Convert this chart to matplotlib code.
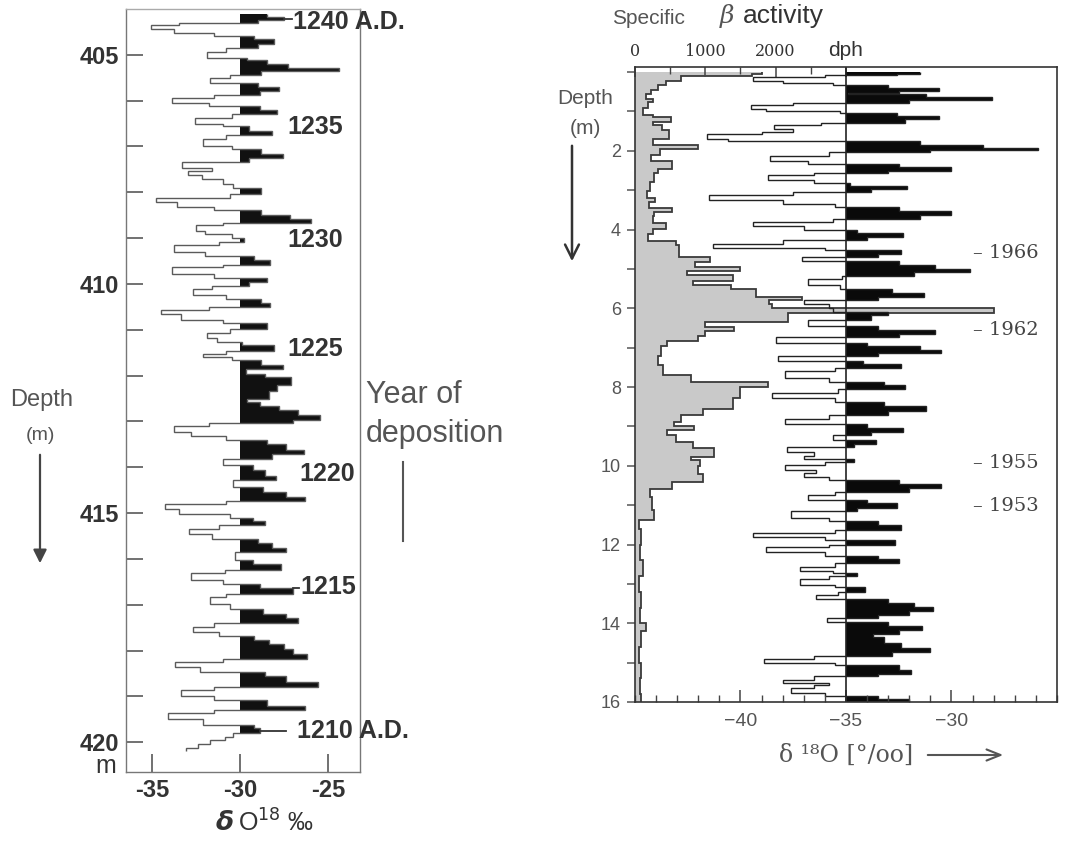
import matplotlib
matplotlib.use("Agg")
import matplotlib.pyplot as plt
from matplotlib.ticker import MultipleLocator, FixedLocator
import numpy as np

# ---------------- data ----------------
# Core A (404-420 m): delta O18 per layer, layer tops in metres
core_a_top = [
    404.12, 404.18, 404.24, 404.30, 404.36, 404.44, 404.52, 404.60, 404.66, 404.76,
    404.86, 404.94, 405.06, 405.12, 405.20, 405.28, 405.36, 405.44, 405.50, 405.62,
    405.70, 405.80, 405.88, 405.94, 406.06, 406.12, 406.20, 406.30, 406.38, 406.50,
    406.56, 406.66, 406.76, 406.84, 406.98, 407.06, 407.16, 407.26, 407.34, 407.46,
    407.54, 407.62, 407.72, 407.82, 407.90, 408.04, 408.12, 408.22, 408.32, 408.38,
    408.50, 408.58, 408.66, 408.72, 408.84, 408.92, 409.00, 409.08, 409.16, 409.30,
    409.40, 409.48, 409.58, 409.64, 409.78, 409.86, 409.96, 410.04, 410.12, 410.24,
    410.32, 410.42, 410.50, 410.56, 410.66, 410.78, 410.86, 410.98, 411.06, 411.18,
    411.26, 411.34, 411.46, 411.52, 411.60, 411.66, 411.76, 411.86, 411.96, 412.04,
    412.20, 412.34, 412.50, 412.58, 412.66, 412.76, 412.86, 412.96, 413.04, 413.10,
    413.22, 413.32, 413.40, 413.50, 413.62, 413.72, 413.82, 413.96, 414.06, 414.18,
    414.28, 414.42, 414.54, 414.64, 414.74, 414.80, 414.92, 415.02, 415.10, 415.18,
    415.26, 415.34, 415.46, 415.56, 415.66, 415.76, 415.86, 416.02, 416.12, 416.24,
    416.30, 416.46, 416.54, 416.64, 416.76, 416.84, 416.98, 417.10, 417.20, 417.30,
    417.40, 417.48, 417.60, 417.68, 417.78, 417.86, 417.96, 418.08, 418.18, 418.24,
    418.36, 418.46, 418.56, 418.68, 418.80, 418.86, 419.00, 419.08, 419.20, 419.30,
    419.36, 419.50, 419.62, 419.70, 419.80, 419.88, 419.96, 420.04, 420.12,
]
core_a_bottom = 420.20
core_a_d18o = [
    -28.5, -27.5, -29.0, -33.5, -35.1, -33.8, -31.5, -29.2, -28.1, -29.0,
    -30.8, -31.9, -29.6, -28.5, -27.3, -24.4, -28.8, -30.6, -31.7, -29.0,
    -27.8, -28.9, -31.5, -33.9, -31.8, -28.9, -27.9, -30.5, -32.6, -31.0,
    -29.5, -28.2, -30.8, -32.1, -30.5, -28.8, -27.6, -29.5, -33.3, -31.6,
    -33.0, -32.2, -31.0, -30.4, -28.8, -30.6, -34.8, -33.6, -31.5, -28.8,
    -27.2, -26.0, -31.0, -32.5, -32.0, -30.5, -29.8, -31.2, -33.8, -32.0,
    -29.2, -28.3, -31.0, -33.9, -31.5, -28.5, -29.5, -31.6, -32.7, -30.8,
    -28.8, -28.3, -31.8, -34.5, -33.4, -31.0, -28.5, -30.6, -31.9, -31.3,
    -29.9, -28.1, -30.8, -32.1, -30.5, -28.8, -27.6, -29.7, -28.6, -27.1,
    -27.9, -28.4, -29.6, -28.9, -27.8, -26.7, -25.5, -27.0, -31.8, -33.8,
    -32.8, -30.8, -28.5, -27.4, -26.4, -28.2, -31.0, -29.3, -28.6, -28.0,
    -30.4, -28.7, -27.4, -26.3, -30.8, -34.3, -33.5, -30.6, -29.3, -28.6,
    -31.2, -32.9, -31.6, -29.0, -28.2, -27.4, -30.3, -29.3, -27.7, -30.9,
    -32.8, -31.0, -28.9, -27.0, -30.8, -31.7, -30.6, -28.7, -27.4, -26.7,
    -31.5, -32.7, -31.2, -29.2, -28.4, -27.5, -27.0, -26.2, -31.0, -33.7,
    -32.3, -28.6, -27.4, -25.6, -31.5, -33.4, -31.5, -28.5, -26.3, -31.5,
    -34.1, -32.1, -29.2, -28.9, -30.4, -30.9, -31.7, -32.4, -33.1,
]
core_a_baseline = -30.0
core_a_years = ["1240 A.D.", "1235", "1230", "1225", "1220", "1215", "1210 A.D."]
core_a_year_depth = [404.28, 406.57, 409.04, 411.42, 414.15, 416.62, 419.76]
core_a_year_x = [-27.0, -27.3, -27.3, -27.3, -26.65, -26.6, -26.8]

# Core B (0-16 m): delta 18O per layer
core_b_top = [
    0.00, 0.04, 0.08, 0.12, 0.22, 0.28, 0.33, 0.40, 0.47, 0.52,
    0.55, 0.64, 0.72, 0.78, 0.84, 0.93, 0.98, 1.04, 1.12, 1.20,
    1.28, 1.34, 1.44, 1.52, 1.58, 1.70, 1.76, 1.84, 1.92, 1.98,
    2.04, 2.12, 2.26, 2.34, 2.42, 2.50, 2.56, 2.62, 2.74, 2.82,
    2.90, 2.98, 3.05, 3.12, 3.26, 3.34, 3.42, 3.52, 3.62, 3.72,
    3.80, 3.92, 4.00, 4.08, 4.20, 4.27, 4.36, 4.46, 4.52, 4.62,
    4.70, 4.80, 4.90, 5.00, 5.08, 5.18, 5.26, 5.40, 5.50, 5.60,
    5.70, 5.78, 5.90, 6.00, 6.10, 6.18, 6.30, 6.45, 6.55, 6.65,
    6.72, 6.88, 6.96, 7.06, 7.14, 7.20, 7.34, 7.42, 7.52, 7.60,
    7.76, 7.86, 7.96, 8.06, 8.14, 8.28, 8.38, 8.48, 8.60, 8.72,
    8.80, 8.94, 9.04, 9.14, 9.22, 9.34, 9.44, 9.52, 9.64, 9.74,
    9.82, 9.90, 9.98, 10.10, 10.18, 10.28, 10.36, 10.46, 10.56, 10.66,
    10.74, 10.86, 10.94, 11.06, 11.14, 11.32, 11.40, 11.50, 11.62, 11.70,
    11.82, 11.88, 12.00, 12.06, 12.20, 12.28, 12.38, 12.48, 12.56, 12.66,
    12.72, 12.80, 12.88, 13.02, 13.08, 13.20, 13.28, 13.38, 13.48, 13.58,
    13.68, 13.78, 13.86, 13.96, 14.06, 14.16, 14.26, 14.36, 14.50, 14.62,
    14.74, 14.84, 14.90, 15.00, 15.06, 15.18, 15.28, 15.34, 15.44, 15.52,
    15.58, 15.64, 15.76, 15.84, 15.92,
]
core_b_bottom = 16.0
core_b_d18o = [
    -31.5, -32.6, -36.0, -39.4, -38.0, -35.6, -33.0, -30.6, -32.5, -34.9,
    -31.2, -28.1, -32.0, -37.5, -39.5, -38.8, -35.3, -32.6, -30.6, -32.2,
    -36.2, -38.4, -37.5, -39.0, -41.6, -40.6, -31.5, -28.5, -25.9, -31.0,
    -35.8, -38.6, -36.8, -32.5, -30.0, -33.0, -36.5, -38.7, -36.5, -34.8,
    -32.1, -33.8, -37.5, -41.5, -38.0, -35.5, -32.5, -30.0, -31.5, -35.6,
    -39.4, -37.0, -34.5, -32.3, -34.0, -38.0, -41.3, -36.0, -32.4, -33.5,
    -37.1, -32.5, -30.8, -29.1, -31.8, -35.2, -36.8, -35.3, -32.8, -31.3,
    -33.5, -37.0, -35.8, -35.6, -33.0, -33.8, -36.8, -33.5, -30.8, -32.5,
    -38.3, -34.0, -31.5, -30.5, -33.5, -38.2, -34.2, -32.4, -35.5, -37.9,
    -35.8, -33.2, -32.2, -35.4, -38.5, -35.5, -33.2, -31.2, -33.0, -35.8,
    -37.9, -34.0, -32.3, -33.8, -35.6, -33.6, -34.6, -37.8, -36.5, -37.0,
    -34.6, -36.0, -37.9, -36.4, -37.0, -35.8, -32.5, -30.5, -32.0, -35.5,
    -36.8, -34.0, -32.6, -34.5, -37.6, -35.8, -33.5, -32.4, -35.5, -39.4,
    -36.0, -32.7, -35.8, -38.8, -36.0, -33.5, -32.5, -35.5, -37.2, -35.6,
    -34.5, -35.8, -37.2, -35.5, -34.1, -35.4, -36.4, -33.0, -31.8, -30.9,
    -32.0, -33.5, -35.9, -33.0, -31.4, -32.5, -33.7, -33.2, -32.4, -31.0,
    -32.8, -36.5, -38.9, -35.5, -32.5, -31.9, -33.5, -36.5, -38.0, -35.8,
    -36.5, -37.6, -36.0, -33.5, -32.0,
]
core_b_baseline = -35.0

# Core B: specific beta activity (dph) per layer
beta_top = [
    0.00, 0.06, 0.11, 0.22, 0.32, 0.45, 0.55, 0.68, 0.76, 0.90,
    1.08, 1.14, 1.26, 1.34, 1.48, 1.70, 1.84, 1.96, 2.10, 2.26,
    2.46, 2.56, 2.80, 3.02, 3.20, 3.30, 3.46, 3.56, 3.66, 3.82,
    3.98, 4.10, 4.28, 4.40, 4.69, 4.82, 4.95, 5.05, 5.15, 5.30,
    5.40, 5.50, 5.70, 5.80, 5.90, 6.00, 6.12, 6.35, 6.48, 6.58,
    6.70, 6.82, 6.95, 7.20, 7.45, 7.70, 7.87, 8.00, 8.29, 8.55,
    8.70, 8.88, 9.00, 9.10, 9.22, 9.40, 9.56, 9.77, 9.86, 10.00,
    10.20, 10.40, 10.58, 10.80, 11.13, 11.38, 11.60, 12.00, 12.40, 12.80,
    13.20, 13.60, 14.00, 14.20, 14.60, 15.00, 15.40, 15.80,
]
beta_bottom = 16.0
beta_dph = [
    1810, 1670, 660, 440, 320, 230, 160, 250, 180, 120,
    260, 510, 250, 390, 480, 260, 900, 360, 230, 530,
    330, 270, 220, 170, 290, 200, 530, 270, 250, 440,
    250, 180, 580, 630, 1060, 850, 1500, 740, 1390, 820,
    1370, 1720, 2370, 1910, 1950, 5100, 2170, 990, 1410, 990,
    900, 460, 370, 330, 400, 800, 1890, 1490, 1390, 960,
    650, 560, 840, 460, 580, 820, 1130, 790, 920, 900,
    960, 530, 220, 240, 270, 60, 90, 70, 110, 60,
    90, 70, 160, 80, 60, 90, 70, 80,
]

core_b_years = ["1966", "1962", "1955", "1953"]
core_b_year_depth = [4.6, 6.56, 9.94, 11.03]

beta_ticks = [0, 1000, 2000, 3000]
beta_ticklabels = ["0", "1000", "2000", "dph"]

# ---------------- figure ----------------
W, H = 1065, 858
fig = plt.figure(figsize=(W / 100, H / 100), dpi=100)


def fx(px):
    return px / W


def fy(py):
    return 1 - py / H


SANS = "Liberation Sans"
SERIF = "DejaVu Serif"
DARK = "#333333"
GREY = "#555555"

# ---------- left panel ----------
ax1 = fig.add_axes([fx(126), fy(772), (360 - 126) / W, (772 - 9) / H])
a_edges = np.array(core_a_top + [core_a_bottom])
a_vals = np.array(core_a_d18o)
ax1.stairs(np.maximum(a_vals, core_a_baseline), a_edges, orientation="horizontal",
           baseline=core_a_baseline, fill=True, color="#111111", lw=0)
ax1.stairs(a_vals, a_edges, orientation="horizontal", baseline=None,
           color="#5a5a5a", lw=1.0)

ax1.set_xlim(-36.5, -23.2)
ax1.set_ylim(420.65, 404.0)
ax1.set_xticks([-35, -30, -25])
ax1.set_xticklabels(["-35", "-30", "-25"])
ax1.set_yticks([405, 410, 415, 420])
ax1.yaxis.set_minor_locator(FixedLocator(np.arange(405, 421, 1)))
ax1.tick_params(axis="y", which="both", direction="in", length=12, width=1.3,
                color="#666666", pad=5, labelsize=17, labelcolor=DARK)
ax1.tick_params(axis="x", which="both", direction="in", length=13, width=1.3,
                color="#666666", pad=5, labelsize=17, labelcolor=DARK)
for lab in ax1.get_xticklabels() + ax1.get_yticklabels():
    lab.set_fontweight("bold")
    lab.set_fontfamily(SANS)
for sp in ax1.spines.values():
    sp.set_color("#777777")
    sp.set_linewidth(1.0)
ax1.spines["top"].set_color("#aaaaaa")

for txt, d, x in zip(core_a_years, core_a_year_depth, core_a_year_x):
    ax1.text(x, d, txt, ha="left", va="center", fontsize=18, fontweight="bold",
             family=SANS, color=DARK, clip_on=False)
# leader dashes toward the year labels
ax1.plot([-27.5, -27.05], [404.22, 404.22], color=DARK, lw=1.3, clip_on=False)
ax1.plot([-27.0, -26.65], [416.64, 416.64], color=DARK, lw=1.3)
ax1.plot([-28.9, -27.4], [419.76, 419.76], color=DARK, lw=1.3)

fig.text(fx(106), fy(766), "m", ha="center", va="center", fontsize=18,
         family=SANS, color=DARK)
fig.text(fx(234), fy(823), "δ", ha="right", va="center", fontsize=19,
         fontweight="bold", fontstyle="italic", family="DejaVu Sans", color=DARK)
fig.text(fx(238), fy(823), "O$^{18}$ ‰", ha="left", va="center", fontsize=18,
         family=SANS, color=DARK)

fig.text(fx(42), fy(400), "Depth", ha="center", va="center", fontsize=17,
         family=SANS, color=GREY)
fig.text(fx(40), fy(436), "(m)", ha="center", va="center", fontsize=14,
         family=SANS, color=GREY)
fig.add_artist(matplotlib.patches.FancyArrowPatch(
    (fx(40), fy(452)), (fx(40), fy(566)), transform=fig.transFigure,
    arrowstyle="-|>,head_length=8,head_width=4", color="#444444", lw=1.6))

fig.text(fx(366), fy(395), "Year of", ha="left", va="center", fontsize=22,
         family=SANS, color=GREY)
fig.text(fx(366), fy(434), "deposition", ha="left", va="center", fontsize=22,
         family=SANS, color=GREY)
fig.add_artist(matplotlib.lines.Line2D([fx(403), fx(403)], [fy(462), fy(541)],
                                       transform=fig.transFigure, color="#555555", lw=1.5))

# ---------- right panel ----------
ax2 = fig.add_axes([fx(635), fy(702), (1057 - 635) / W, (702 - 67) / H])
axb = ax2.twiny()
ax2.set_zorder(axb.get_zorder() + 1)
ax2.patch.set_visible(False)

b_edges = np.array(beta_top + [beta_bottom])
axb.stairs(beta_dph, b_edges, orientation="horizontal", baseline=0, fill=True,
           color="#c9c9c9", lw=0)
axb.stairs(beta_dph, b_edges, orientation="horizontal", baseline=None,
           color="#3a3a3a", lw=1.3)
axb.set_xlim(0, 6000)

c_edges = np.array(core_b_top + [core_b_bottom])
c_vals = np.array(core_b_d18o)
ax2.stairs(np.maximum(c_vals, core_b_baseline), c_edges, orientation="horizontal",
           baseline=core_b_baseline, fill=True, color="#0a0a0a", lw=0)
ax2.stairs(c_vals, c_edges, orientation="horizontal", baseline=None,
           color="#222222", lw=1.0)
ax2.axvline(core_b_baseline, color="#222222", lw=1.2)

ax2.set_xlim(-45, -25)
ax2.set_ylim(16.0, -0.13)

ax2.set_xticks([-40, -35, -30])
ax2.xaxis.set_minor_locator(MultipleLocator(1))
ax2.tick_params(axis="x", which="major", direction="in", length=9, width=1.1,
                color="#444444", pad=8, labelsize=14, labelcolor=GREY)
ax2.tick_params(axis="x", which="minor", direction="in", length=5, width=1.0,
                color="#444444")
ax2.set_yticks(np.arange(2, 17, 2))
ax2.yaxis.set_minor_locator(FixedLocator(np.arange(0, 17, 1)))
ax2.tick_params(axis="y", which="both", direction="out", length=6, width=1.1,
                color="#555555", pad=4, labelsize=13, labelcolor=GREY)
for lab in ax2.get_xticklabels() + ax2.get_yticklabels():
    lab.set_fontfamily(SANS)
for sp in ax2.spines.values():
    sp.set_color("#333333")
    sp.set_linewidth(1.2)
for sp in axb.spines.values():
    sp.set_visible(False)

axb.set_xticks(beta_ticks)
axb.set_xticklabels(beta_ticklabels)
axb.xaxis.set_minor_locator(FixedLocator([500, 1500, 2500]))
axb.tick_params(axis="x", which="major", direction="in", length=7, width=1.1,
                color="#444444", pad=5, labelsize=11.5, labelcolor=DARK)
axb.tick_params(axis="x", which="minor", direction="in", length=5, width=1.0,
                color="#444444")
for lab in axb.get_xticklabels():
    lab.set_fontfamily(SERIF)
axb.get_xticklabels()[-1].set_fontfamily(SANS)
axb.get_xticklabels()[-1].set_fontsize(15)

for txt, d in zip(core_b_years, core_b_year_depth):
    ax2.text(-29.0, d, "– " + txt, ha="left", va="center", fontsize=14,
             family=SERIF, color="#444444")

fig.text(fx(612), fy(18), "Specific", ha="left", va="center", fontsize=15,
         family=SANS, color=GREY)
fig.text(fx(720), fy(16), "β", ha="left", va="center", fontsize=18,
         fontstyle="italic", family=SERIF, color=GREY)
fig.text(fx(743), fy(16), "activity", ha="left", va="center", fontsize=19,
         family=SANS, color=DARK)

fig.text(fx(585), fy(98), "Depth", ha="center", va="center", fontsize=15,
         family=SANS, color=GREY)
fig.text(fx(585), fy(128), "(m)", ha="center", va="center", fontsize=15,
         family=SANS, color=GREY)
fig.add_artist(matplotlib.patches.FancyArrowPatch(
    (fx(572), fy(143)), (fx(572), fy(264)), transform=fig.transFigure,
    arrowstyle="->,head_length=10,head_width=5", color="#333333", lw=1.8))

fig.text(fx(846), fy(755), "δ ¹⁸O [°/oo]", ha="center", va="center", fontsize=17,
         family=SERIF, color=GREY)
fig.add_artist(matplotlib.patches.FancyArrowPatch(
    (fx(925), fy(755)), (fx(1006), fy(755)), transform=fig.transFigure,
    arrowstyle="->,head_length=10,head_width=4", color="#555555", lw=1.5))

fig.savefig("out.png", dpi=100, facecolor="white")
